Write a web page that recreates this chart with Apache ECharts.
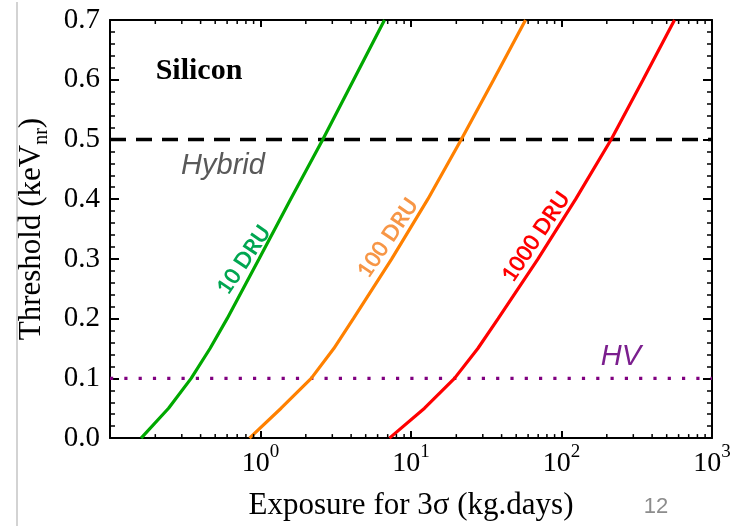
<!DOCTYPE html>
<html>
<head>
<meta charset="utf-8">
<script src="https://cdn.jsdelivr.net/npm/echarts@6/dist/echarts.min.js"></script>
<style>
  html, body { margin: 0; padding: 0; background: #fff; }
  #chart { width: 748px; height: 526px; }
</style>
</head>
<body>
<div id="chart"></div>
<script>
// Threshold levels (keV_nr) at which each exposure curve is sampled
const thresholds = [0, 0.05, 0.1, 0.15, 0.2, 0.3, 0.4, 0.5, 0.6, 0.7];
// Exposure (kg.days) needed for a 3σ result at each threshold, per background level
const exposure10DRU = [0.161, 0.245, 0.346, 0.462, 0.600, 0.977, 1.585, 2.594, 4.159, 6.668];
const exposure100DRU = [0.845, 1.371, 2.173, 3.069, 4.140, 7.447, 12.94, 21.58, 35.40, 57.68];
const exposure1000DRU = [7.19, 12.30, 19.45, 27.80, 37.93, 69.82, 124.2, 213.8, 348.3, 563.6];
const seriesNames = ['10 DRU', '100 DRU', '1000 DRU'];

// Detector operating-mode thresholds
const hybridThreshold = 0.5;
const hvThreshold = 0.1;

// Axis ranges and tick labels
const xRange = [0.1, 1000];
const yRange = [0, 0.7];
const yTickStep = 0.1;
const xTickPowers = ['-1', '0', '1', '2', '3'];
const yTickLabels = ['0.0', '0.1', '0.2', '0.3', '0.4', '0.5', '0.6', '0.7'];

const SERIF = '"Liberation Serif", "Times New Roman", serif';
const SANS = '"Liberation Sans", Arial, sans-serif';
const LABEL_FONT = 'bold 22px Lato, "Open Sans", sans-serif';
const LABEL_ANGLE = 56 * Math.PI / 180;

// Log-decade minor tick positions (2..9 within each decade)
const minorTickValues = [];
for (let d = xRange[0]; d < xRange[1] * 0.999; d *= 10) {
  for (let m = 2; m <= 9; m++) minorTickValues.push([d * m, 0]);
}

const pair = (xs) => thresholds.map((t, i) => [xs[i], t]);

const chart = echarts.init(document.getElementById('chart'), null, { renderer: 'canvas' });

const xLabelFormatter = (v) => {
  const p = Math.round(Math.log10(v));
  const idx = xTickPowers.indexOf(String(p));
  if (p < 0 || idx < 0) return '';
  return '10{s|' + xTickPowers[idx] + '}';
};

const tickStyle = { color: '#000', width: 2 };

const option = {
  animation: false,
  backgroundColor: '#fff',
  grid: { left: 110, right: 36, top: 20, bottom: 84, containLabel: false },
  xAxis: [
    {
      type: 'log', logBase: 10, min: xRange[0], max: xRange[1],
      position: 'bottom',
      axisLine: { show: true, onZero: false, lineStyle: { color: '#000', width: 2 } },
      axisTick: { show: true, inside: true, length: 7, lineStyle: tickStyle },
      splitLine: { show: false },
      axisLabel: {
        show: true, margin: 4, color: '#000',
        fontFamily: SERIF, fontSize: 28, lineHeight: 43,
        hideOverlap: false, showMinLabel: true, showMaxLabel: true,
        formatter: xLabelFormatter,
        rich: { s: { fontFamily: SERIF, fontSize: 19, lineHeight: 19, verticalAlign: 'top', color: '#000' } }
      },
      name: 'Exposure for 3σ (kg.days)',
      nameLocation: 'middle', nameGap: 50,
      nameTextStyle: { fontFamily: SERIF, fontSize: 31, color: '#000' }
    },
    {
      type: 'log', logBase: 10, min: xRange[0], max: xRange[1],
      position: 'top',
      axisLine: { show: true, onZero: false, lineStyle: { color: '#000', width: 2 } },
      axisTick: { show: true, inside: true, length: 7, lineStyle: tickStyle },
      axisLabel: { show: false },
      splitLine: { show: false }
    }
  ],
  yAxis: [
    {
      type: 'value', min: yRange[0], max: yRange[1], interval: yTickStep,
      position: 'left',
      axisLine: { show: true, onZero: false, lineStyle: { color: '#000', width: 2 } },
      axisTick: { show: true, inside: true, length: 9, lineStyle: tickStyle },
      minorTick: { show: true, splitNumber: 5, length: 5, lineStyle: { color: '#000', width: 1.5 } },
      splitLine: { show: false },
      axisLabel: {
        margin: 10, color: '#000', fontFamily: SERIF, fontSize: 29,
        formatter: (v) => yTickLabels[Math.round(v / yTickStep)] || ''
      },
      name: 'Threshold (keV{sub|nr})',
      nameLocation: 'middle', nameRotate: 90, nameGap: 58,
      nameTextStyle: {
        fontFamily: SERIF, fontSize: 31, lineHeight: 40, color: '#000',
        rich: { sub: { fontFamily: SERIF, fontSize: 20, lineHeight: 20, verticalAlign: 'bottom', color: '#000' } }
      }
    },
    {
      type: 'value', min: yRange[0], max: yRange[1], interval: yTickStep,
      position: 'right',
      axisLine: { show: true, onZero: false, lineStyle: { color: '#000', width: 2 } },
      axisTick: { show: true, inside: true, length: 9, lineStyle: tickStyle },
      minorTick: { show: true, splitNumber: 5, length: 5, lineStyle: { color: '#000', width: 1.5 } },
      splitLine: { show: false },
      axisLabel: { show: false }
    }
  ],
  series: [
    {
      name: 'Hybrid', type: 'line', xAxisIndex: 0, yAxisIndex: 0, z: 2,
      data: [[xRange[0], hybridThreshold], [xRange[1], hybridThreshold]],
      showSymbol: false, silent: true,
      lineStyle: { color: '#000', width: 3.5, type: [16, 10], cap: 'butt' }
    },
    {
      name: 'HV', type: 'line', xAxisIndex: 0, yAxisIndex: 0, z: 2,
      data: [[xRange[0], hvThreshold], [xRange[1], hvThreshold]],
      showSymbol: false, silent: true,
      lineStyle: { color: '#800080', width: 3.2, type: [3.2, 11.1], cap: 'butt' }
    },
    {
      name: seriesNames[0], type: 'line', z: 3, data: pair(exposure10DRU),
      showSymbol: false, silent: true, lineStyle: { color: '#00a800', width: 3.2 }
    },
    {
      name: seriesNames[1], type: 'line', z: 3, data: pair(exposure100DRU),
      showSymbol: false, silent: true, lineStyle: { color: '#ff8000', width: 3.2 }
    },
    {
      name: seriesNames[2], type: 'line', z: 3, data: pair(exposure1000DRU),
      showSymbol: false, silent: true, lineStyle: { color: '#ff0000', width: 3.2 }
    },
    {
      // minor ticks for the logarithmic exposure axis (bottom and top edges)
      type: 'custom', xAxisIndex: 0, yAxisIndex: 0, z: 4, silent: true,
      data: minorTickValues,
      renderItem: (params, api) => {
        const v = api.value(0);
        const b = api.coord([v, yRange[0]]);
        const t = api.coord([v, yRange[1]]);
        const st = { stroke: '#000', lineWidth: 1.5 };
        return {
          type: 'group',
          children: [
            { type: 'line', shape: { x1: b[0], y1: b[1], x2: b[0], y2: b[1] - 4 }, style: st },
            { type: 'line', shape: { x1: t[0], y1: t[1], x2: t[0], y2: t[1] + 4 }, style: st }
          ]
        };
      }
    }
  ],
  graphic: [
    { type: 'line', shape: { x1: 17, y1: 2, x2: 17, y2: 526 }, style: { stroke: '#c4c4c4', lineWidth: 1.5 } },
    {
      type: 'text', x: 199, y: 71, z: 10,
      style: { text: 'Silicon', font: 'bold 30px ' + SERIF, fill: '#000', align: 'center', verticalAlign: 'middle' }
    },
    {
      type: 'text', x: 223, y: 166, z: 10,
      style: { text: 'Hybrid', font: 'italic 29px ' + SANS, fill: '#595959', align: 'center', verticalAlign: 'middle' }
    },
    {
      type: 'text', x: 621, y: 357, z: 10,
      style: { text: 'HV', font: 'italic 29px ' + SANS, fill: '#7b1f8e', align: 'center', verticalAlign: 'middle' }
    },
    {
      type: 'text', x: 244, y: 260, rotation: LABEL_ANGLE, z: 10,
      style: { text: seriesNames[0], font: LABEL_FONT, fill: '#00a651', align: 'center', verticalAlign: 'middle' }
    },
    {
      type: 'text', x: 388, y: 238, rotation: LABEL_ANGLE, z: 10,
      style: { text: seriesNames[1], font: LABEL_FONT, fill: '#f79646', align: 'center', verticalAlign: 'middle' }
    },
    {
      type: 'text', x: 536, y: 237, rotation: LABEL_ANGLE, z: 10,
      style: { text: seriesNames[2], font: LABEL_FONT, fill: '#ff0000', align: 'center', verticalAlign: 'middle' }
    },
    {
      type: 'text', x: 656, y: 507, z: 10,
      style: { text: '12', font: '22px ' + SANS, fill: '#8c8c8c', align: 'center', verticalAlign: 'middle' }
    }
  ]
};

chart.setOption(option);
</script>
</body>
</html>
